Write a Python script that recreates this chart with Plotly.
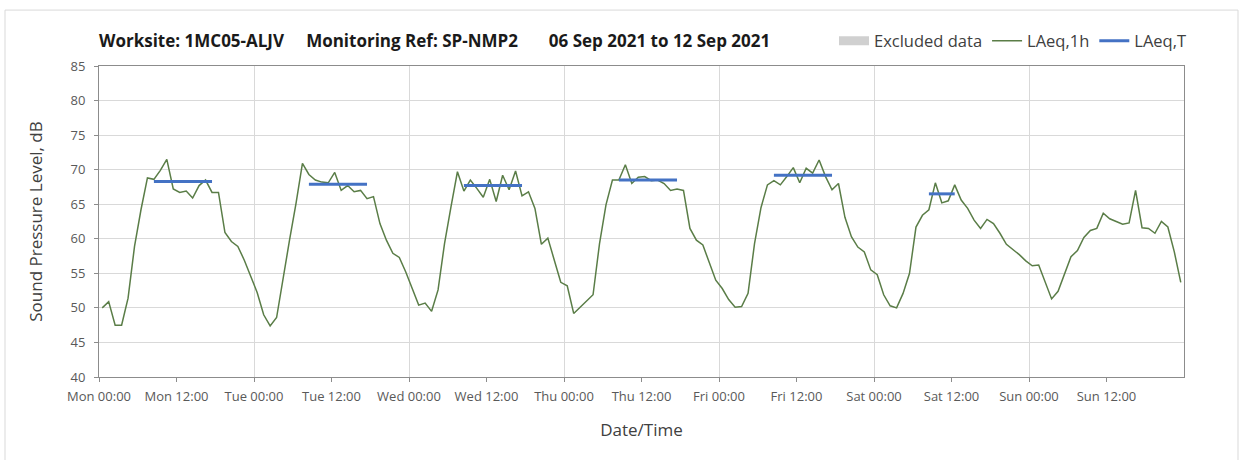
import pandas as pd
import plotly.graph_objects as go

# hourly LAeq,1h readings, one list per day (values plotted at mid-hour)
mon = [50.0, 50.9, 47.5, 47.5, 51.4, 58.9, 64.2, 68.8, 68.6, 69.9, 71.5, 67.2,
       66.7, 66.9, 65.9, 67.7, 68.5, 66.7, 66.7, 60.9, 59.6, 58.9, 56.9, 54.5]
tue = [52.2, 49.0, 47.4, 48.6, 54.5, 59.8, 65.1, 70.9, 69.3, 68.5, 68.2, 68.1,
       69.6, 67.0, 67.7, 66.8, 67.0, 65.8, 66.1, 62.2, 59.8, 57.9, 57.3, 55.2]
wed = [52.8, 50.4, 50.7, 49.5, 52.6, 59.3, 64.6, 69.7, 66.9, 68.5, 67.3, 66.0,
       68.6, 65.4, 69.2, 67.1, 69.8, 66.2, 66.8, 64.4, 59.2, 60.1, 56.9, 53.7]
thu = [53.2, 49.2, 50.1, 51.0, 51.9, 59.3, 64.9, 68.5, 68.5, 70.7, 68.0, 68.9,
       69.0, 68.4, 68.5, 68.0, 67.0, 67.2, 67.0, 61.5, 59.8, 59.1, 56.5, 54.0]
fri = [52.8, 51.2, 50.1, 50.2, 52.1, 59.3, 64.5, 67.8, 68.4, 67.8, 69.0, 70.3,
       68.1, 70.2, 69.5, 71.4, 69.0, 67.1, 68.0, 63.1, 60.3, 58.8, 58.1, 55.5]
sat = [54.8, 51.9, 50.3, 50.0, 52.1, 55.0, 61.7, 63.4, 64.2, 68.1, 65.2, 65.5,
       67.8, 65.6, 64.4, 62.7, 61.5, 62.8, 62.2, 60.8, 59.2, 58.5, 57.7, 56.8]
sun = [56.1, 56.2, 53.7, 51.3, 52.4, 54.8, 57.4, 58.3, 60.2, 61.2, 61.5, 63.7,
       62.9, 62.5, 62.1, 62.3, 67.0, 61.6, 61.5, 60.8, 62.5, 61.7, 58.1, 53.7]

# LAeq,T per day and the hours it covers
laeq_t = [68.3, 67.9, 67.7, 68.5, 69.2, 66.5, None]
t_hours = [range(8, 18)] * 5 + [range(8, 13), range(0)]

start = "2021-09-06"
end = "2021-09-13"
gap1 = "\u00a0" * 5
gap2 = "\u00a0" * 7
title = (f"Worksite: 1MC05-ALJV{gap1}Monitoring Ref: SP-NMP2"
         f"{gap2}06 Sep 2021 to 12 Sep 2021")

days = [mon, tue, wed, thu, fri, sat, sun]
hourly = [v for d in days for v in d]
times = pd.date_range(start + " 00:30", periods=len(hourly), freq="h")

period = []
for val, hrs in zip(laeq_t, t_hours):
    for h in range(24):
        period.append(val if h in hrs else None)

ticks = pd.date_range(start, periods=14, freq="12h")
tick_text = list(ticks.strftime("%a %H:%M"))

GRID = "#d9d9d9"
AXIS = "#8c8c8c"
TXT = "#404040"
FONT = "Open Sans"

fig = go.Figure()

# nothing was excluded this week, legend entry only
fig.add_trace(go.Scatter(x=[None], y=[None], name="Excluded data",
                         mode="lines", line=dict(color="#d0d0d0", width=9)))
fig.add_trace(go.Scatter(x=times, y=hourly, mode="lines", name="LAeq,1h",
                         line=dict(color="#5a7d47", width=1.5)))
fig.add_trace(go.Scatter(x=times, y=period, mode="lines", name="LAeq,T",
                         line=dict(color="#4472c4", width=3),
                         connectgaps=False))
# carrier for the labelled 12-hour axis
fig.add_trace(go.Scatter(x=[], y=[], xaxis="x2", showlegend=False,
                         hoverinfo="skip"))

fig.update_layout(
    width=1242, height=460,
    paper_bgcolor="white", plot_bgcolor="white",
    margin=dict(l=99, r=58, t=66, b=83, autoexpand=False),
    font=dict(family=FONT, size=13, color=TXT),
    title=dict(text=f"<b>{title}</b>", x=99 / 1242, xanchor="left",
               y=1 - 41 / 460, yanchor="middle",
               font=dict(family=FONT, size=17, color="#1a1a1a")),
    legend=dict(orientation="h", x=(834 - 99) / 1085, xanchor="left",
                y=(377.5 - 41) / 311.5, yanchor="middle",
                font=dict(size=16.5, color=TXT),
                bgcolor="rgba(0,0,0,0)", itemwidth=30, tracegroupgap=0),
    showlegend=True,
    xaxis=dict(type="date", range=[start, end], dtick=86400000,
               showgrid=True, gridcolor=GRID, gridwidth=1,
               showticklabels=False, ticks="", zeroline=False,
               showline=True, linecolor=AXIS, mirror=True, automargin=False),
    xaxis2=dict(type="date", range=[start, end], overlaying="x",
                side="bottom", tickmode="array", tickvals=ticks,
                ticktext=tick_text, showgrid=False, zeroline=False,
                ticks="outside", ticklen=4, tickcolor=AXIS,
                ticklabelstandoff=3, automargin=False,
                tickfont=dict(size=13, color="#595959"),
                title=dict(text="Date/Time", standoff=20,
                           font=dict(size=17, color=TXT))),
    yaxis=dict(range=[40, 85], dtick=5, showgrid=True, gridcolor=GRID,
               gridwidth=1, zeroline=False, showline=True, linecolor=AXIS,
               mirror=True, ticks="outside", ticklen=4, tickcolor=AXIS,
               ticklabelstandoff=6, automargin=False,
               tickfont=dict(size=13, color="#595959"),
               title=dict(text="Sound Pressure Level, dB", standoff=23,
                          font=dict(size=17, color=TXT))),
)

# light outer chart frame
fig.add_shape(type="rect", xref="paper", yref="paper",
              x0=(5 - 99) / 1085, x1=(1238 - 99) / 1085,
              y0=(377.5 - 470) / 311.5, y1=(377.5 - 10) / 311.5,
              line=dict(color="#d9d9d9", width=1), layer="below")

fig.write_html("out.html", config={"displayModeBar": False},
               post_script="document.body.style.margin = '0';")
